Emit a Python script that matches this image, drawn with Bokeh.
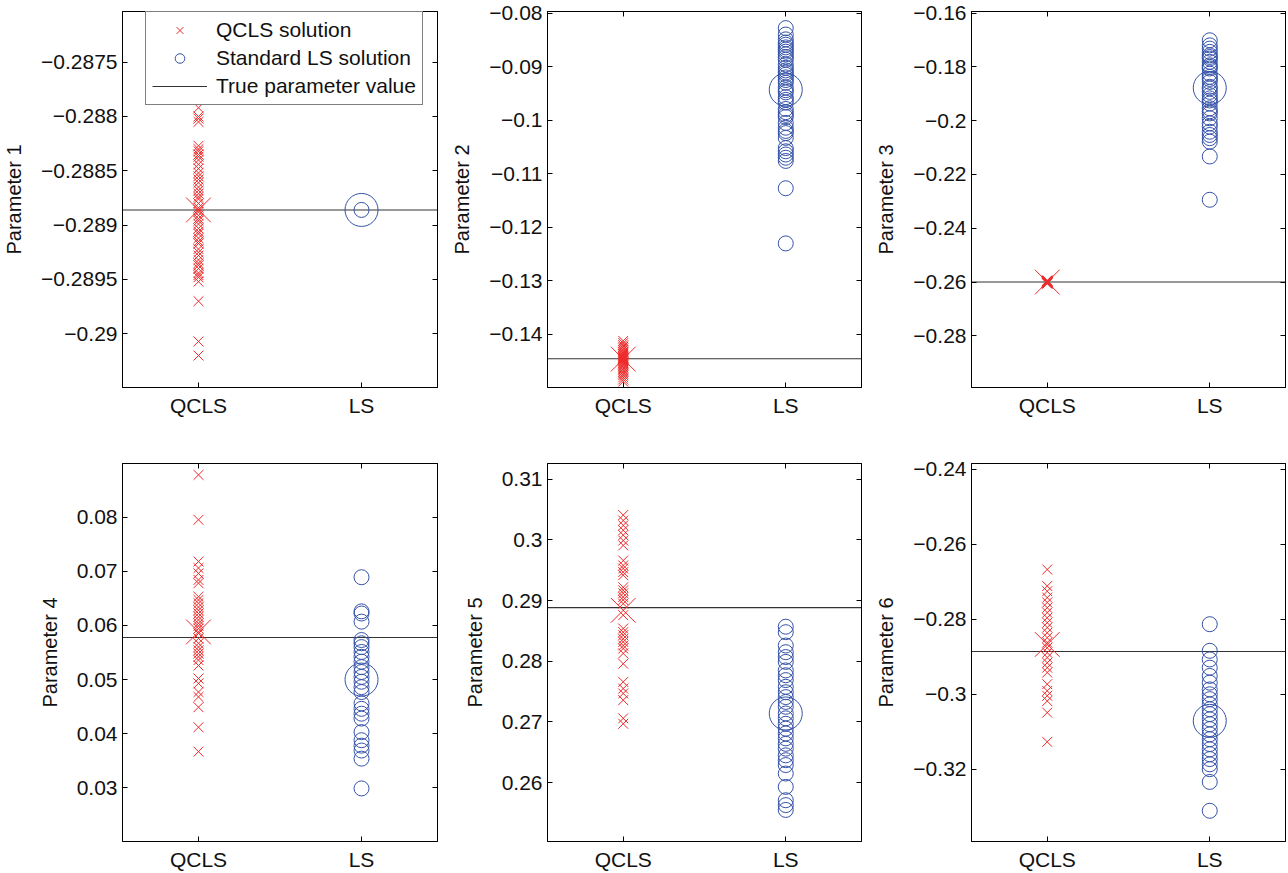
from bokeh.plotting import figure
from bokeh.layouts import gridplot
from bokeh.models import (Range1d, FixedTicker, LinearAxis, CustomJSTickFormatter,
                          Legend, LegendItem)
from bokeh.embed import file_html
from bokeh.resources import INLINE

# ---------------- data ----------------
categories = ["QCLS", "LS"]
param_names = ["Parameter 1", "Parameter 2", "Parameter 3",
               "Parameter 4", "Parameter 5", "Parameter 6"]

true_values = [-0.28886, -0.14452, -0.26000, 0.05778, 0.28885, -0.28860]
qcls_means = [-0.28886, -0.14460, -0.26000, 0.05880, 0.28840, -0.28670]
ls_means = [-0.28886, -0.09430, -0.18780, 0.05000, 0.27140, -0.30710]

qcls_p1 = [-0.28792, -0.28800, -0.28802, -0.28805, -0.28827, -0.28830, -0.28832,
           -0.28835, -0.28837, -0.28840, -0.28844, -0.28848, -0.28852, -0.28855,
           -0.28858, -0.28861, -0.28865, -0.28868, -0.28871, -0.28874, -0.28876,
           -0.28880, -0.28884, -0.28886, -0.28888, -0.28891, -0.28894, -0.28896,
           -0.28899, -0.28903, -0.28906, -0.28908, -0.28912, -0.28915, -0.28917,
           -0.28922, -0.28925, -0.28928, -0.28932, -0.28935, -0.28937, -0.28940,
           -0.28944, -0.28946, -0.28948, -0.28952, -0.28970, -0.29007, -0.29020]
ls_p1 = [-0.28886]

qcls_p2 = [-0.1412, -0.1416, -0.1420, -0.1423, -0.1426, -0.1429, -0.1432, -0.1434,
           -0.1436, -0.1438, -0.1440, -0.1442, -0.1443, -0.1444, -0.1445, -0.1446,
           -0.1447, -0.1448, -0.1450, -0.1452, -0.1454, -0.1456, -0.1458, -0.1461,
           -0.1464, -0.1467, -0.1470, -0.1473, -0.1476, -0.1480, -0.1484, -0.1488]
ls_p2 = [-0.0828, -0.0840, -0.0849, -0.0855, -0.0859, -0.0864, -0.0868, -0.0872,
         -0.0877, -0.0882, -0.0887, -0.0896, -0.0902, -0.0907, -0.0911, -0.0915,
         -0.0920, -0.0925, -0.0930, -0.0939, -0.0944, -0.0948, -0.0957, -0.0962,
         -0.0967, -0.0979, -0.0985, -0.0990, -0.0994, -0.1005, -0.1014, -0.1020,
         -0.1024, -0.1033, -0.1052, -0.1058, -0.1064, -0.1070, -0.1076, -0.1127,
         -0.1230]

qcls_p3 = [-0.2594, -0.2595, -0.2596, -0.2597, -0.2598, -0.2598, -0.2599, -0.2599,
           -0.2600, -0.2600, -0.2600, -0.2601, -0.2601, -0.2602, -0.2602, -0.2603,
           -0.2603, -0.2604, -0.2605, -0.2606]
ls_p3 = [-0.1701, -0.1720, -0.1732, -0.1744, -0.1757, -0.1763, -0.1769, -0.1781,
         -0.1794, -0.1800, -0.1806, -0.1825, -0.1837, -0.1845, -0.1856, -0.1874,
         -0.1880, -0.1893, -0.1905, -0.1917, -0.1925, -0.1936, -0.1954, -0.1965,
         -0.1973, -0.1991, -0.2010, -0.2022, -0.2041, -0.2053, -0.2065, -0.2078,
         -0.2133, -0.2294]

qcls_p4 = [0.0878, 0.0795, 0.0718, 0.0706, 0.0696, 0.0684, 0.0678, 0.0653, 0.0647,
           0.0641, 0.0634, 0.0628, 0.0622, 0.0616, 0.0610, 0.0604, 0.0599, 0.0594,
           0.0585, 0.0576, 0.0567, 0.0560, 0.0554, 0.0548, 0.0542, 0.0536, 0.0526,
           0.0502, 0.0493, 0.0477, 0.0468, 0.0449, 0.0412, 0.0367]
ls_p4 = [0.0689, 0.0626, 0.0622, 0.0607, 0.0573, 0.0567, 0.0560, 0.0551, 0.0542,
         0.0533, 0.0523, 0.0514, 0.0505, 0.0496, 0.0486, 0.0477, 0.0456, 0.0446,
         0.0437, 0.0428, 0.0403, 0.0388, 0.0378, 0.0369, 0.0354, 0.0299]

qcls_p5 = [0.3041, 0.3032, 0.3024, 0.3016, 0.3008, 0.2999, 0.2991, 0.2966, 0.2958,
           0.2953, 0.2947, 0.2942, 0.2922, 0.2917, 0.2912, 0.2906, 0.2901, 0.2895,
           0.2876, 0.2854, 0.2848, 0.2843, 0.2837, 0.2832, 0.2826, 0.2821, 0.2813,
           0.2796, 0.2766, 0.2755, 0.2747, 0.2736, 0.2706, 0.2697]
ls_p5 = [0.2857, 0.2848, 0.2826, 0.2815, 0.2807, 0.2799, 0.2785, 0.2777, 0.2769,
         0.2758, 0.2749, 0.2741, 0.2733, 0.2725, 0.2714, 0.2706, 0.2697, 0.2689,
         0.2681, 0.2673, 0.2664, 0.2656, 0.2645, 0.2637, 0.2629, 0.2615, 0.2593,
         0.2571, 0.2563, 0.2555]

qcls_p6 = [-0.2667, -0.2711, -0.2725, -0.2742, -0.2755, -0.2769, -0.2782, -0.2796,
           -0.2809, -0.2822, -0.2836, -0.2849, -0.2862, -0.2876, -0.2889, -0.2902,
           -0.2916, -0.2929, -0.2942, -0.2973, -0.2991, -0.3004, -0.3018, -0.3049,
           -0.3127]
ls_p6 = [-0.2813, -0.2884, -0.2907, -0.2929, -0.2951, -0.2969, -0.2987, -0.3000,
         -0.3013, -0.3027, -0.3040, -0.3053, -0.3067, -0.3080, -0.3093, -0.3107,
         -0.3120, -0.3133, -0.3147, -0.3160, -0.3173, -0.3187, -0.3200, -0.3234,
         -0.3311]

qcls_all = [qcls_p1, qcls_p2, qcls_p3, qcls_p4, qcls_p5, qcls_p6]
ls_all = [ls_p1, ls_p2, ls_p3, ls_p4, ls_p5, ls_p6]

y_ranges = [(-0.290494, -0.287034), (-0.1499, -0.0797), (-0.2992, -0.1594),
            (0.0201, 0.0899), (0.2503, 0.3126), (-0.3393, -0.2384)]
y_ticks = [[-0.29, -0.2895, -0.289, -0.2885, -0.288, -0.2875],
           [-0.14, -0.13, -0.12, -0.11, -0.1, -0.09, -0.08],
           [-0.28, -0.26, -0.24, -0.22, -0.2, -0.18, -0.16],
           [0.03, 0.04, 0.05, 0.06, 0.07, 0.08],
           [0.26, 0.27, 0.28, 0.29, 0.3, 0.31],
           [-0.32, -0.3, -0.28, -0.26, -0.24]]
x_lo, x_hi = 0.534, 2.466

# ---------------- style ----------------
RED = "#ee2a2a"
BLUE = "#3452a8"
FONT = "Liberation Sans"
FS = "21px"
FS_LABEL = "20px"
TXT = "#111111"

num_fmt = CustomJSTickFormatter(
    code="return String(parseFloat(tick.toFixed(6))).replace('-', '\u2212');")
cat_fmt = CustomJSTickFormatter(args=dict(cats=categories),
                                code="return cats[Math.round(tick) - 1];")
blank_fmt = CustomJSTickFormatter(code="return '';")


def style_axis(ax, labels=True):
    ax.axis_line_color = "black"
    ax.axis_line_width = 1
    ax.major_tick_line_color = "black"
    ax.major_tick_in = 5
    ax.major_tick_out = 0
    ax.minor_tick_line_color = None
    ax.major_label_text_font = FONT
    ax.major_label_text_font_size = FS if labels else "0px"
    ax.major_label_text_line_height = 1.0
    ax.major_label_text_color = TXT
    ax.axis_label_text_font = FONT
    ax.axis_label_text_font_size = FS_LABEL
    ax.axis_label_text_font_style = "normal"
    ax.axis_label_text_color = TXT


# layout (Bokeh's page template has no body margin)
col_left = [122, 109, 109]
col_frame = [315, 314, 314]
col_right = [1, 1, 2]
row_top = [11, 37]
row_frame = [376, 378]
row_bottom = [39, 32]

figs = []
for i in range(6):
    row, col = divmod(i, 3)
    bl, fw, br = col_left[col], col_frame[col], col_right[col]
    bt, fh, bb = row_top[row], row_frame[row], row_bottom[row]
    p = figure(width=bl + fw + br, height=bt + fh + bb,
               x_range=Range1d(x_lo, x_hi), y_range=Range1d(*y_ranges[i]),
               output_backend="svg", toolbar_location=None,
               min_border_left=bl, min_border_right=br,
               min_border_top=bt, min_border_bottom=bb)
    p.xgrid.visible = False
    p.ygrid.visible = False
    p.outline_line_color = "black"
    p.outline_line_width = 1
    p.background_fill_color = "white"
    p.border_fill_color = "white"

    p.xaxis.ticker = FixedTicker(ticks=[1, 2])
    p.xaxis.formatter = cat_fmt
    p.yaxis.ticker = FixedTicker(ticks=y_ticks[i])
    p.yaxis.formatter = num_fmt
    p.yaxis.axis_label = param_names[i]
    for ax in p.xaxis:
        style_axis(ax)
        ax.major_label_standoff = 6
    for ax in p.yaxis:
        style_axis(ax)
        ax.major_label_standoff = 5
        ax.axis_label_standoff = 13

    ra = LinearAxis(ticker=FixedTicker(ticks=y_ticks[i]), formatter=blank_fmt)
    style_axis(ra, labels=False)
    ra.major_label_standoff = 0
    p.add_layout(ra, "right")
    ta = LinearAxis(ticker=FixedTicker(ticks=[1, 2]), formatter=blank_fmt)
    style_axis(ta, labels=False)
    ta.major_label_standoff = 0
    p.add_layout(ta, "above")

    tv = true_values[i]
    r_line = p.line(x=[x_lo, x_hi], y=[tv, tv], line_color="#333333", line_width=1.1)

    q = qcls_all[i]
    l = ls_all[i]
    r_q = p.scatter(x=[1] * len(q), y=q, marker="x", size=14,
                    line_color=RED, line_width=1)
    p.scatter(x=[1], y=[qcls_means[i]], marker="x", size=35,
              line_color=RED, line_width=1)
    r_l = p.scatter(x=[2] * len(l), y=l, marker="circle", size=15,
                    fill_color=None, line_color=BLUE, line_width=1)
    p.scatter(x=[2], y=[ls_means[i]], marker="circle", size=33,
              fill_color=None, line_color=BLUE, line_width=1)

    if i == 0:
        legend = Legend(items=[
            LegendItem(label="QCLS solution", renderers=[r_q]),
            LegendItem(label="Standard LS solution", renderers=[r_l]),
            LegendItem(label="True parameter value", renderers=[r_line]),
        ])
        legend.location = (23, 282)
        legend.padding = 6
        legend.spacing = 4
        legend.glyph_width = 55
        legend.glyph_height = 24
        legend.label_standoff = 9
        legend.label_height = 24
        legend.label_text_font = FONT
        legend.label_text_font_size = FS
        legend.label_text_color = TXT
        legend.border_line_color = "black"
        legend.border_line_width = 1
        legend.background_fill_color = "white"
        legend.background_fill_alpha = 1
        p.add_layout(legend)
    figs.append(p)

grid = gridplot([figs[0:3], figs[3:6]], toolbar_location=None)

with open("out.html", "w", encoding="utf-8") as f:
    f.write(file_html(grid, INLINE))
